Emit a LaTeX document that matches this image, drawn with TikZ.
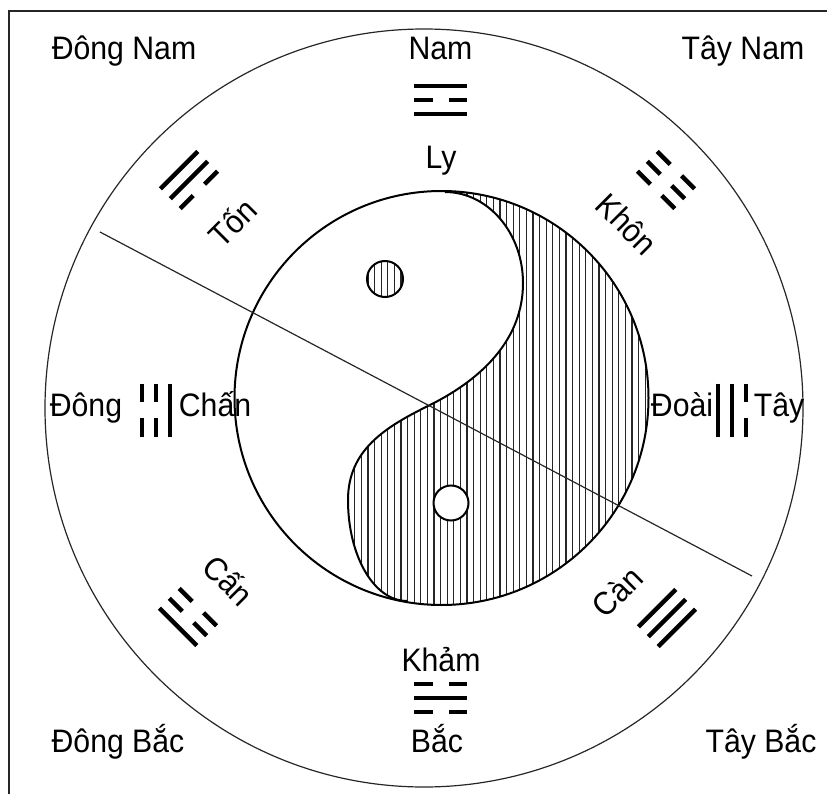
\documentclass[tikz,border=0pt]{standalone}
\usepackage{fontspec}
\setmainfont[FakeStretch=0.93]{Liberation Sans}
\usetikzlibrary{positioning}
\newcommand{\amduong}{(445,192) .. controls (488,192) and (523,233) .. (523,283)
  .. controls (523,338) and (484,378) .. (430,405)
  .. controls (385,427) and (348,450) .. (348,500)
  .. controls (348,556) and (374,601) .. (407,601)}

\begin{document}
\begin{tikzpicture}[
  x=1pt, y=-1pt,
  huong/.style={anchor=base, inner sep=0pt, font=\fontsize{32.5}{38}\selectfont},
  tenque/.style={inner sep=0pt, font=\fontsize{32.5}{38}\selectfont},
  vien/.style={line width=1.2pt, draw=black!85},
  dam/.style={line width=2pt, draw=black},
  gach/.style={line width=1.25pt, draw=black!85},
  hao/.style={line width=4.5pt, draw=black}
]
\useasboundingbox (0,0) rectangle (827,794);
\draw[vien] (9,11) rectangle (900,900);
\draw[vien] (424,408) circle[radius=379];

\begin{scope}
  \clip (441.5,398) circle[radius=207];
  \clip \amduong -- (407,640) -- (680,640) -- (680,160) -- (445,160) -- cycle;
  \foreach \x in {236,242.6,...,650} \draw[gach] (\x,185) -- (\x,610);
\end{scope}
\begin{scope}
  \clip (385,279) circle[radius=18];
  \foreach \x in {236,242.6,...,650} \draw[gach] (\x,255) -- (\x,300);
\end{scope}
\draw[dam] (441.5,398) circle[radius=207];
\draw[dam] \amduong;
\draw[dam] (385,279) circle[radius=18];
\draw[dam, fill=white] (451,503) circle[radius=17.5];

\coordinate (d1) at (100,232);
\coordinate (d2) at (752,576);
\draw[vien] (d1) -- (d2);

\foreach \px/\py/\goc/\ha/\hb/\hc in {
  440.5/100/0/1/0/1, 440.5/698/180/0/1/0, 156/410/90/1/0/0, 732/410/-90/1/1/0,
  189/180/45/0/1/1, 666/180/-45/0/0/0, 188/617/135/0/0/1, 667/618/-135/1/1/1}{
  \begin{scope}[shift={(\px,\py)}, rotate=\goc]
    \foreach \v/\h in {14/\ha, 0/\hb, -14/\hc}{
      \ifnum\h=1
        \draw[hao] (-26.5,\v) -- (26.5,\v);
      \else
        \draw[hao] (-26.5,\v) -- (-8,\v) (8,\v) -- (26.5,\v);
      \fi
    }
  \end{scope}
}

\node[huong] (dongnam) at (124,60) {Đông Nam};
\node[huong] (nam) at (440.5,60) {Nam};
\node[huong] (taynam) at (743,60) {Tây Nam};
\node[huong] (dongbac) at (118,752) {Đông Bắc};
\node[huong] (bac) at (437,752) {Bắc};
\node[huong] (taybac) at (761,752) {Tây Bắc};
\node[huong] (dong) at (86,416) {Đông};
\node[huong] (tay) at (779,416) {Tây};
\node[huong] (ly) at (441,169) {Ly};
\node[huong] (kham) at (441,671) {Khảm};
\node[huong] (chan) at (215,416) {Chấn};
\node[huong] (doai) at (682,416) {Đoài};
\node[tenque, rotate=45] (ton) at (232,222) {Tốn};
\node[tenque, rotate=-45] (khon) at (627,224) {Khôn};
\node[tenque, rotate=-45] (can) at (229,580) {Cấn};
\node[tenque, rotate=45] (canh) at (617,592) {Càn};
\end{tikzpicture}
\end{document}
